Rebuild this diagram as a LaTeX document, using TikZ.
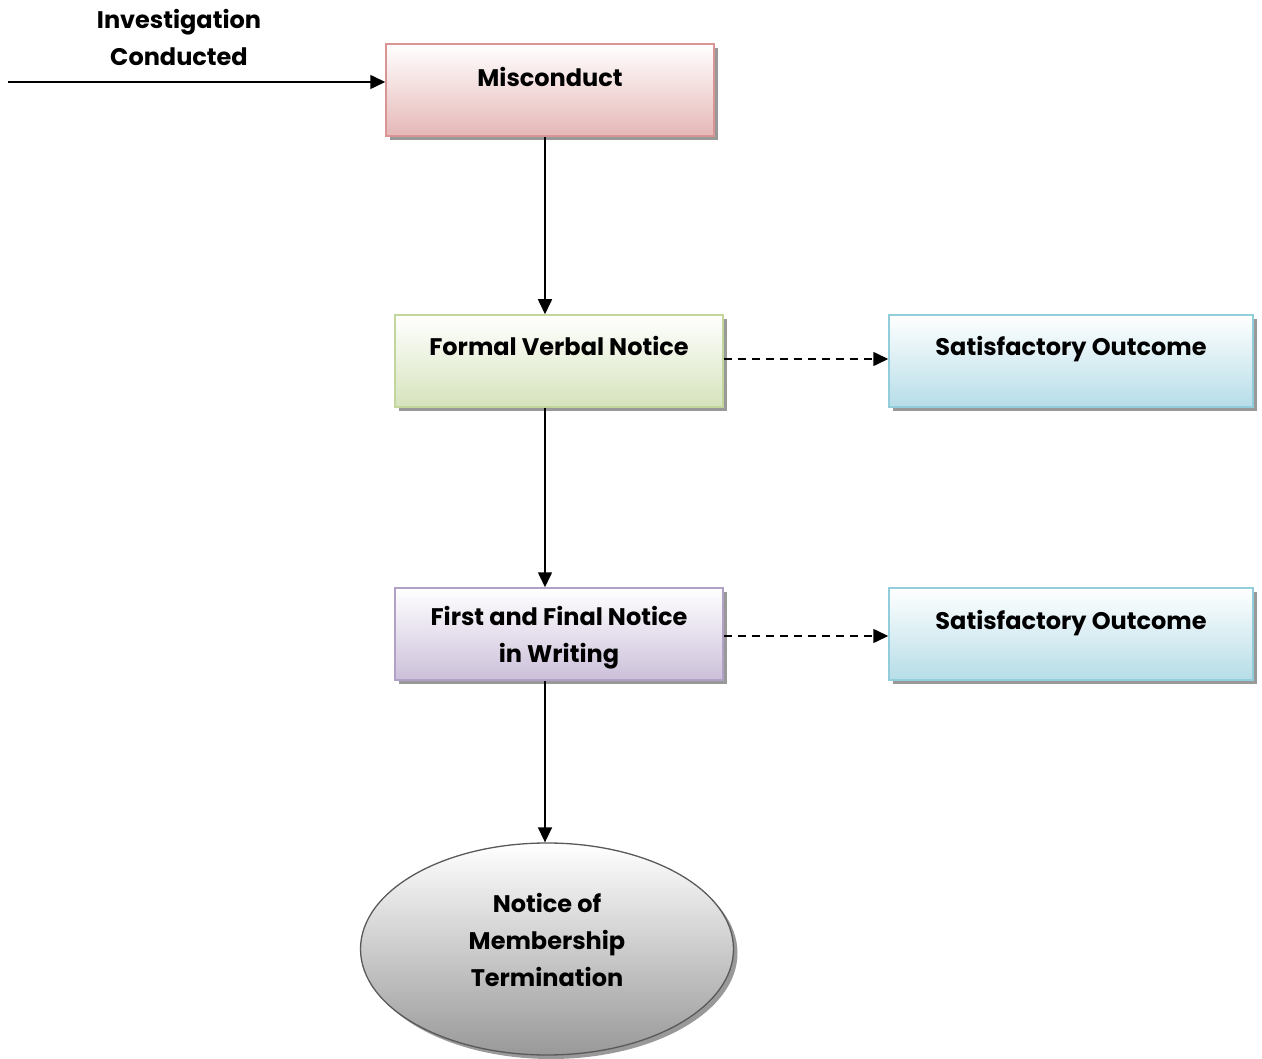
\documentclass[tikz,border=0pt]{standalone}
\usepackage{fontspec}
\setmainfont{Poppins}
\usetikzlibrary{arrows.meta,shadows,shapes.geometric}
\definecolor{pinkB}{HTML}{D99594}
\definecolor{pinkF}{HTML}{E5B8B7}
\definecolor{greenB}{HTML}{C3D69B}
\definecolor{greenF}{HTML}{D6E3BC}
\definecolor{blueB}{HTML}{92CDDC}
\definecolor{blueF}{HTML}{B6DDE8}
\definecolor{purpB}{HTML}{B2A1C7}
\definecolor{purpF}{HTML}{CCC0DA}
\begin{document}
\begin{tikzpicture}[x=1pt,y=-1pt,
  box/.style={rectangle, line width=1.5pt, minimum width=328pt, minimum height=92pt, inner sep=0pt,
    drop shadow={shadow xshift=4pt, shadow yshift=-4pt, fill=black!40, opacity=1}},
  wbox/.style={box, minimum width=364pt},
  lbl/.style={font=\fontsize{24}{37}\selectfont\bfseries, align=center, inner sep=0pt},
  arr/.style={line width=1.6pt, -{Triangle[length=15pt,width=14pt]}},
  darr/.style={arr, dash pattern=on 8pt off 6pt}
]
\useasboundingbox (0,0) rectangle (1262,1059);
% boxes
\node[box, draw=pinkB, top color=white, bottom color=pinkF] (mis) at (550,90) {};
\node[box, draw=greenB, top color=white, bottom color=greenF] (fvn) at (559,361) {};
\node[wbox, draw=blueB, top color=white, bottom color=blueF] (so1) at (1071,361) {};
\node[box, draw=purpB, top color=white, bottom color=purpF] (ffn) at (559,634) {};
\node[wbox, draw=blueB, top color=white, bottom color=blueF] (so2) at (1071,634) {};
\node[ellipse, line width=1.3pt, draw=black!65, top color=white, bottom color=black!40,
  minimum width=373pt, minimum height=212pt, inner sep=0pt,
  drop shadow={shadow xshift=4pt, shadow yshift=-4pt, fill=black!40, opacity=1}] (term) at (547,949) {};
% labels
\node[lbl] (lmis) at (550,77) {Misconduct};
\node[lbl] (lfvn) at (559,346) {Formal Verbal Notice};
\node[lbl] (lso1) at (1071,349) {Satisfactory Outcome};
\node[lbl] (lffn) at (559,638) {First and Final Notice\\in Writing};
\node[lbl] (lso2) at (1071,623) {Satisfactory Outcome};
\node[lbl] (lterm) at (547,940) {Notice of\\Membership\\Termination};
\node[lbl] (linv) at (179,37) {Investigation\\Conducted};
% connectors
\coordinate (start) at (8,82);
\draw[arr] (start) -- (mis.west |- start);
\draw[arr] (mis.south -| 545,0) -- (fvn.north -| 545,0);
\draw[arr] (fvn.south -| 545,0) -- (ffn.north -| 545,0);
\draw[arr] (ffn.south -| 545,0) -- (term.north -| 545,0);
\draw[darr] (fvn.east |- 0,359) -- (so1.west |- 0,359);
\draw[darr] (ffn.east |- 0,636) -- (so2.west |- 0,636);
\end{tikzpicture}
\end{document}
